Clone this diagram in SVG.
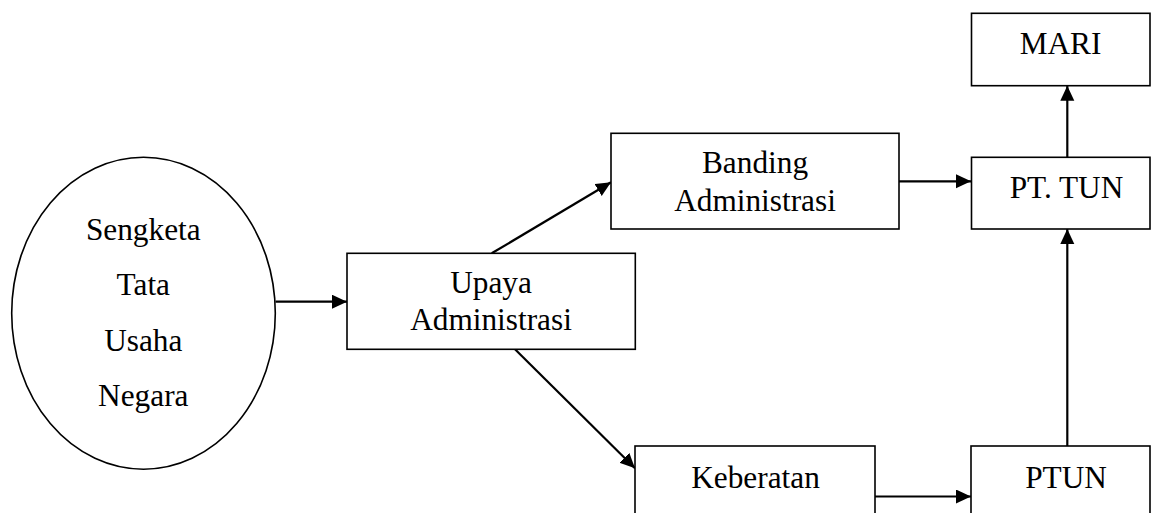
<svg xmlns="http://www.w3.org/2000/svg" width="1154" height="513" viewBox="0 0 1154 513">
<style>
.box{fill:#fff;stroke:#000;stroke-width:1.6}
.t{font-family:"Liberation Serif","Times New Roman",serif;font-size:31.3px;fill:#000;text-anchor:middle}
.c{stroke:#000;stroke-width:2.2;fill:none;marker-end:url(#ah)}
</style>
<defs>
<marker id="ah" markerUnits="userSpaceOnUse" markerWidth="16" markerHeight="15" refX="15" refY="7" orient="auto">
<path d="M0,0 L15,7 L0,14 z" fill="#000"/>
</marker>
</defs>
<rect width="1154" height="513" fill="#fff"/>
<g id="connectors">
<line class="c" x1="275.5" y1="301.7" x2="347" y2="301.7"/>
<line class="c" x1="491.7" y1="253.3" x2="611" y2="182.3"/>
<line class="c" x1="515" y1="349.3" x2="635" y2="468.3"/>
<line class="c" x1="899" y1="181.3" x2="971" y2="181.3"/>
<line class="c" x1="875" y1="496.5" x2="971" y2="496.5"/>
<line class="c" x1="1067.3" y1="446" x2="1067.3" y2="229"/>
<line class="c" x1="1067.3" y1="157.3" x2="1067.3" y2="85.7"/>
</g>
<g id="sengketa">
<ellipse class="box" cx="143.5" cy="313.3" rx="131.8" ry="156"/>
<text class="t" x="143.3" y="240">Sengketa</text>
<text class="t" x="143.3" y="295">Tata</text>
<text class="t" x="143.3" y="351">Usaha</text>
<text class="t" x="143.3" y="406">Negara</text>
</g>
<g id="upaya">
<rect class="box" x="347" y="253.3" width="288.3" height="96"/>
<text class="t" x="491" y="293.3">Upaya</text>
<text class="t" x="491" y="330">Administrasi</text>
</g>
<g id="banding">
<rect class="box" x="611" y="133.3" width="288" height="95.7"/>
<text class="t" x="755" y="173.3">Banding</text>
<text class="t" x="755" y="210.7">Administrasi</text>
</g>
<g id="keberatan">
<rect class="box" x="635" y="446" width="240" height="80"/>
<text class="t" x="755.5" y="488.4">Keberatan</text>
</g>
<g id="ptun">
<rect class="box" x="971" y="446" width="179" height="80"/>
<text class="t" x="1066" y="488.4">PTUN</text>
</g>
<g id="pttun">
<rect class="box" x="971.5" y="157.3" width="178.5" height="71.7"/>
<text class="t" x="1066.5" y="198.3">PT. TUN</text>
</g>
<g id="mari">
<rect class="box" x="971.5" y="13.3" width="178.5" height="72.4"/>
<text class="t" x="1060.5" y="54">MARI</text>
</g>
</svg>
